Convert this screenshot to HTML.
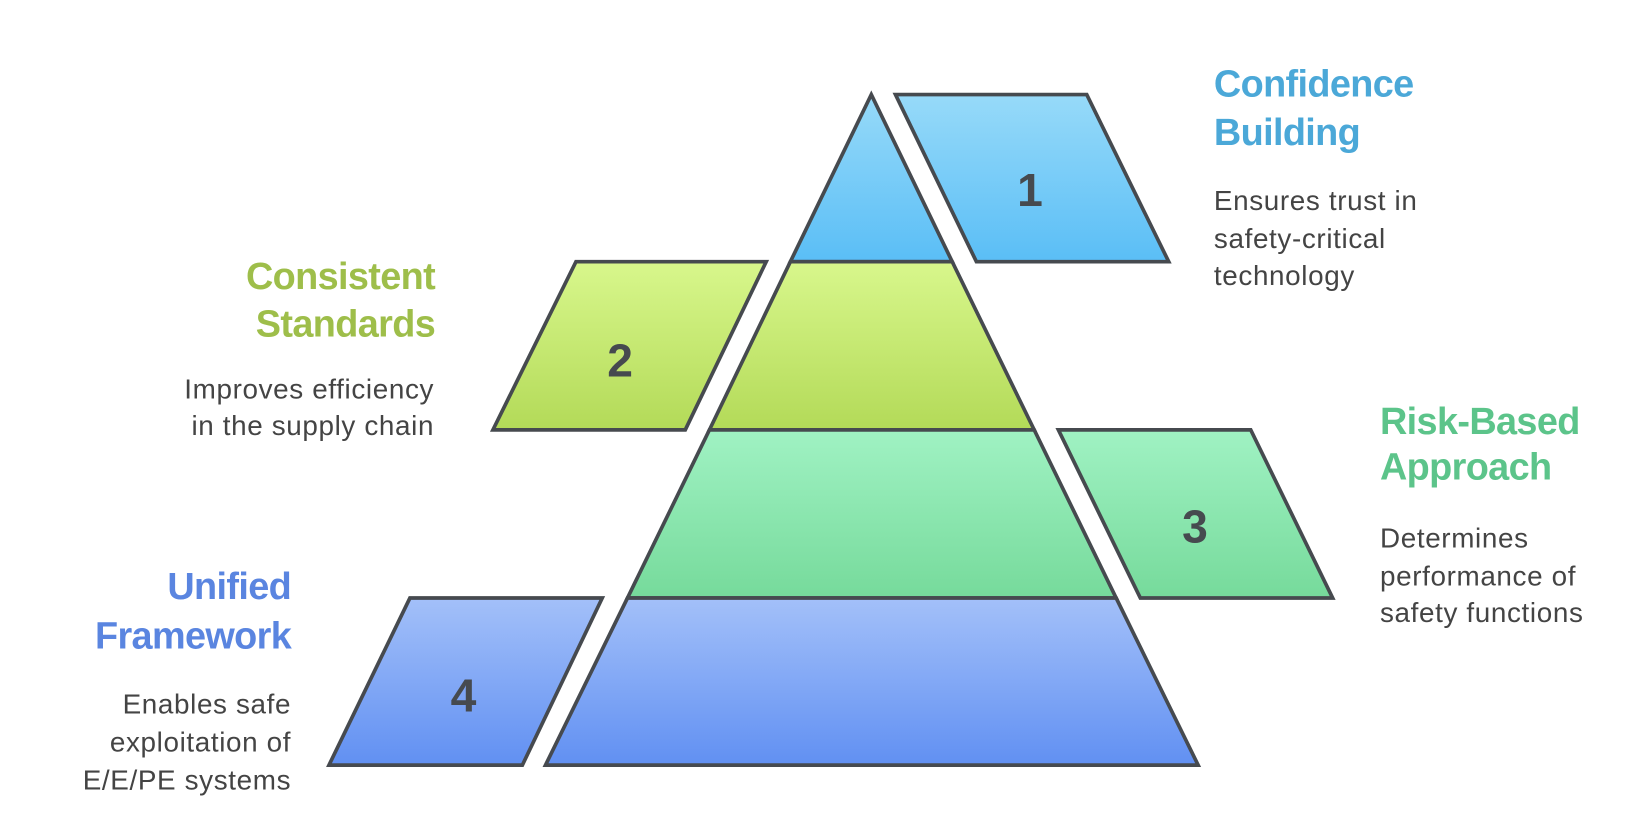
<!DOCTYPE html>
<html><head><meta charset="utf-8"><style>html,body{margin:0;padding:0;background:#fff}svg{display:block}</style></head>
<body>
<svg width="1648" height="814" viewBox="0 0 1568 774.5" xmlns="http://www.w3.org/2000/svg" font-family="Liberation Sans, sans-serif">
<defs>
<linearGradient id="g1" x1="0" y1="0" x2="0" y2="1"><stop offset="0" stop-color="#97daf9"/><stop offset="1" stop-color="#5abef6"/></linearGradient>
<linearGradient id="g2" x1="0" y1="0" x2="0" y2="1"><stop offset="0" stop-color="#d8f78c"/><stop offset="1" stop-color="#b3da58"/></linearGradient>
<linearGradient id="g3" x1="0" y1="0" x2="0" y2="1"><stop offset="0" stop-color="#a0f2c3"/><stop offset="1" stop-color="#76da9b"/></linearGradient>
<linearGradient id="g4" x1="0" y1="0" x2="0" y2="1"><stop offset="0" stop-color="#a3c0f9"/><stop offset="1" stop-color="#6190f2"/></linearGradient>
</defs>
<g stroke="#464a4f" stroke-width="3.5" stroke-linejoin="miter">
<polygon points="829,90 906,249 752,249" fill="url(#g1)"/>
<polygon points="752,249 906,249 984,409 675,409" fill="url(#g2)"/>
<polygon points="675,409 984,409 1062,569 597,569" fill="url(#g3)"/>
<polygon points="597,569 1062,569 1140,728 519,728" fill="url(#g4)"/>
<polygon points="852,90 1034,90 1112,249 929,249" fill="url(#g1)"/>
<polygon points="548,249 729,249 652,409 469,409" fill="url(#g2)"/>
<polygon points="1007,409 1190,409 1268,569 1085,569" fill="url(#g3)"/>
<polygon points="390,569 573,569 497,728 313,728" fill="url(#g4)"/>
</g>
<g font-weight="bold" font-size="44" fill="#464a4f" text-anchor="middle">
<text x="980" y="196">1</text>
<text x="590" y="358">2</text>
<text x="1137" y="516">3</text>
<text x="441" y="677">4</text>
</g>
<g font-weight="bold" font-size="36" letter-spacing="-0.6">
<text x="1155" y="92" fill="#4ba8d8">Confidence</text>
<text x="1155" y="138" fill="#4ba8d8">Building</text>
<text x="414" y="275" fill="#9ebe4a" text-anchor="end">Consistent</text>
<text x="414" y="320" fill="#9ebe4a" text-anchor="end">Standards</text>
<text x="1313" y="413" fill="#5cc48a">Risk-Based</text>
<text x="1313" y="456" fill="#5cc48a">Approach</text>
<text x="277" y="570" fill="#5a85e0" text-anchor="end">Unified</text>
<text x="277" y="617" fill="#5a85e0" text-anchor="end">Framework</text>
</g>
<g font-size="26.5" fill="#444" letter-spacing="0.6">
<text x="1155" y="200">Ensures trust in</text>
<text x="1155" y="236">safety-critical</text>
<text x="1155" y="271">technology</text>
<text x="413" y="379" text-anchor="end">Improves efficiency</text>
<text x="413" y="414" text-anchor="end">in the supply chain</text>
<text x="1313" y="521">Determines</text>
<text x="1313" y="557">performance of</text>
<text x="1313" y="592">safety functions</text>
<text x="277" y="679" text-anchor="end">Enables safe</text>
<text x="277" y="715" text-anchor="end">exploitation of</text>
<text x="277" y="751" text-anchor="end">E/E/PE systems</text>
</g>
</svg>
</body></html>
